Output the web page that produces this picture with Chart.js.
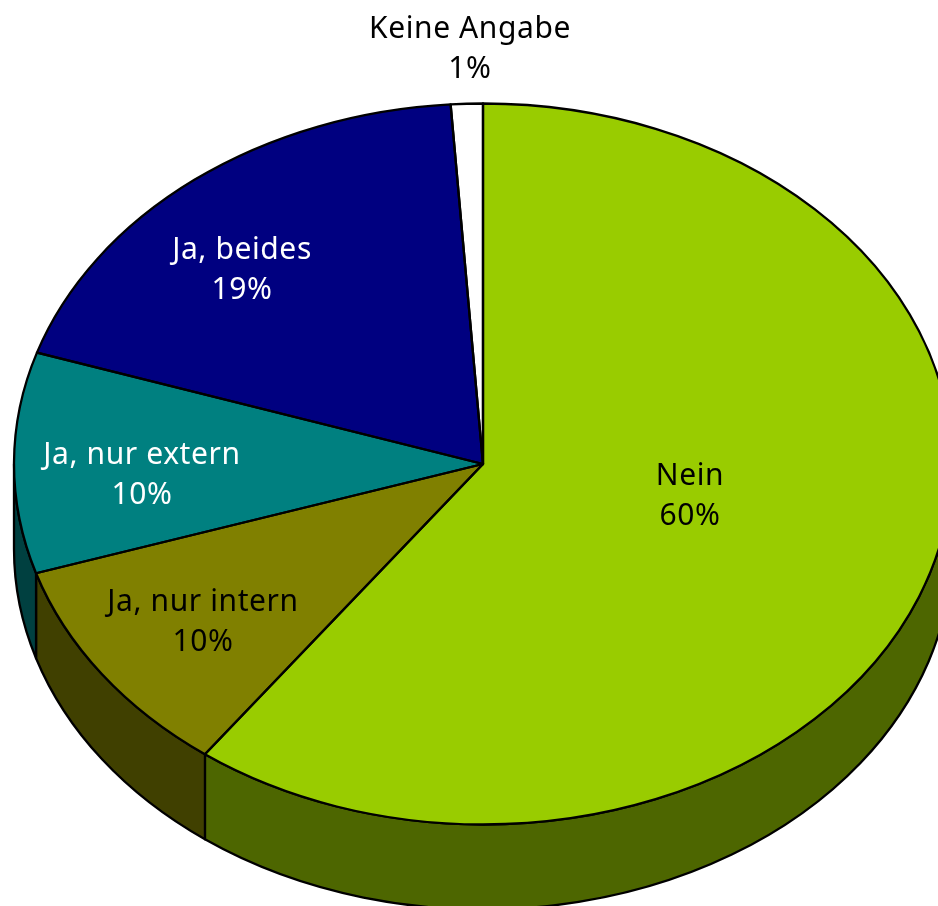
<!DOCTYPE html>
<html>
<head>
<meta charset="utf-8">
<script src="https://cdn.jsdelivr.net/npm/chart.js@4"></script>
<style>html,body{margin:0;padding:0;background:#fff;overflow:hidden}canvas{display:block}</style>
</head>
<body>
<canvas id="c" width="938" height="906"></canvas>
<script>
const categories = ['Nein', 'Ja, nur intern', 'Ja, nur extern', 'Ja, beides', 'Keine Angabe'];
const values = [60.1, 10, 9.9, 18.9, 1.1];
const percentLabels = ['60%', '10%', '10%', '19%', '1%'];
const topColors = ['#99cc00', '#808000', '#008080', '#000080', '#ffffff'];
const sideColors = ['#4d6600', '#404000', '#004040', '#000040', '#808080'];
const textColors = ['#000000', '#000000', '#ffffff', '#ffffff', '#000000'];
const labelCenters = [[690, 495], [203, 621], [142, 474], [242, 269], [470, 48]];

const CX = 483, CY = 464, RX = 469, RY = 360.5, DEPTH = 85;
const FONT = '30px "Noto Sans"';
const LINE = 2.3;

function enterFlat(ctx, el) {
  const r = el.outerRadius;
  ctx.translate(CX, CY);
  ctx.scale(RX / r, RY / r);
  ctx.translate(-el.x, -el.y);
}

function slicePath(ctx, el) {
  ctx.save();
  enterFlat(ctx, el);
  ctx.beginPath();
  ctx.moveTo(el.x, el.y);
  ctx.arc(el.x, el.y, el.outerRadius, el.startAngle, el.endAngle);
  ctx.closePath();
  ctx.restore();
}

function wallPath(ctx, a0, a1) {
  ctx.beginPath();
  ctx.ellipse(CX, CY, RX, RY, 0, a0, a1);
  ctx.ellipse(CX, CY + DEPTH, RX, RY, 0, a1, a0, true);
  ctx.closePath();
}

const flatPie = {
  id: 'flatPie',
  beforeDatasetsDraw(chart) {
    const ctx = chart.ctx;
    const arcs = chart.getDatasetMeta(0).data;
    ctx.strokeStyle = '#000';
    ctx.lineWidth = LINE;
    ctx.lineJoin = 'round';
    arcs.forEach((el, i) => {
      const a0 = Math.max(el.startAngle, 0);
      const a1 = Math.min(el.endAngle, Math.PI);
      if (a1 > a0) {
        wallPath(ctx, a0, a1);
        ctx.fillStyle = sideColors[i];
        ctx.fill();
        ctx.stroke();
      }
    });
    // the library draws its own slices inside this flattened projection
    ctx.save();
    enterFlat(ctx, arcs[0]);
  },
  afterDatasetsDraw(chart) {
    const ctx = chart.ctx;
    ctx.restore();
    const arcs = chart.getDatasetMeta(0).data;
    ctx.strokeStyle = '#000';
    ctx.lineWidth = LINE;
    ctx.lineJoin = 'round';
    arcs.forEach(el => {
      slicePath(ctx, el);
      ctx.stroke();
    });
    ctx.font = FONT;
    ctx.letterSpacing = '0.6px';
    ctx.textAlign = 'center';
    ctx.textBaseline = 'middle';
    categories.forEach((name, i) => {
      const [x, y] = labelCenters[i];
      ctx.fillStyle = textColors[i];
      ctx.fillText(name, x, y - 19);
      ctx.fillText(percentLabels[i], x, y + 21);
    });
  }
};

new Chart(document.getElementById('c'), {
  type: 'pie',
  data: {
    labels: categories,
    datasets: [{ data: values, backgroundColor: topColors, borderWidth: 0, clip: false }]
  },
  options: {
    responsive: false,
    animation: false,
    rotation: 0,
    layout: { padding: 0 },
    plugins: { legend: { display: false }, tooltip: { enabled: false } }
  },
  plugins: [flatPie]
});
</script>
</body>
</html>
